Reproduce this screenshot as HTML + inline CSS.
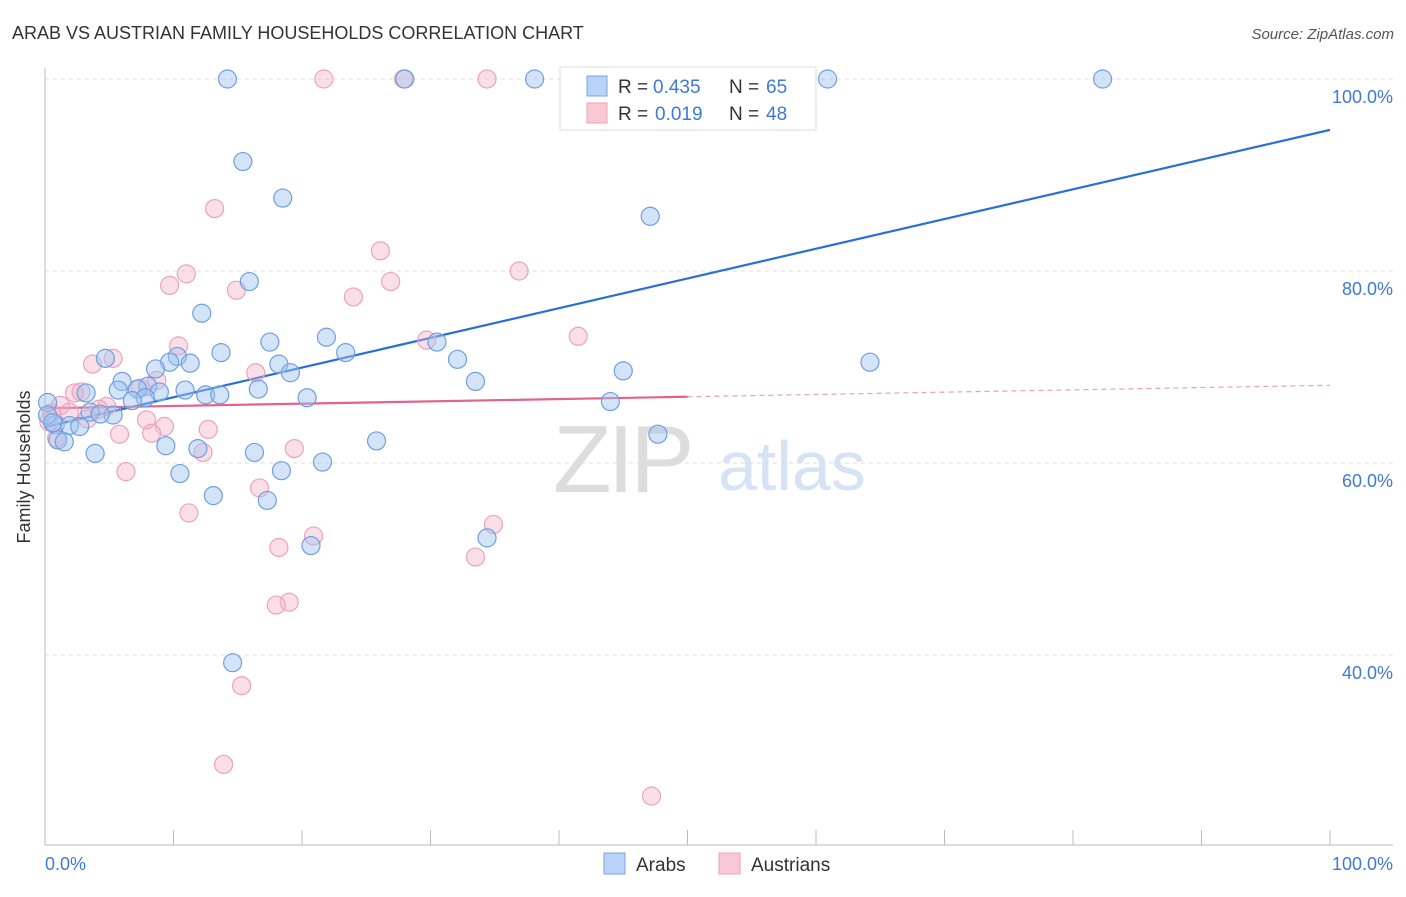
<!DOCTYPE html>
<html><head><meta charset="utf-8"><style>
body{margin:0;background:#fff;font-family:"Liberation Sans",sans-serif;}
svg text{font-family:"Liberation Sans",sans-serif;}
</style></head><body>
<svg id="chart" width="1406" height="892" viewBox="0 0 1406 892" xmlns="http://www.w3.org/2000/svg">
<text x="12" y="39" font-size="18" fill="#333">ARAB VS AUSTRIAN FAMILY HOUSEHOLDS CORRELATION CHART</text>
<text x="1394" y="39" font-size="15" fill="#555" font-style="italic" text-anchor="end">Source: ZipAtlas.com</text>
<g>
<text x="553" y="492" font-size="96" fill="#ddd" font-family="Liberation Serif, serif" letter-spacing="-4">ZIP</text>
<text x="718" y="490" font-size="70" fill="#d5e3f5">atlas</text>
</g>
<g id="grid"></g>
<g id="axes"></g>
<g id="trends"></g>
<g id="points"></g>
<g>
<rect x="560" y="67" width="256" height="63" fill="#fff" stroke="#ddd"/>
<rect x="587" y="76" width="20" height="20" fill="#b8d3f5" stroke="#7aa6e2"/>
<text x="618" y="93" font-size="19" fill="#333">R = </text><text x="653" y="93" font-size="19" fill="#3f79d8">0.435</text>
<text x="729" y="93" font-size="19" fill="#333">N = </text><text x="766" y="93" font-size="19" fill="#3f79d8">65</text>
<rect x="587" y="103" width="20" height="20" fill="#f8c8d6" stroke="#eca3ba"/>
<text x="618" y="120" font-size="19" fill="#333">R = </text><text x="655" y="120" font-size="19" fill="#3f79d8">0.019</text>
<text x="729" y="120" font-size="19" fill="#333">N = </text><text x="766" y="120" font-size="19" fill="#3f79d8">48</text>
</g>
<g>
<rect x="604" y="853" width="21" height="21" fill="#b8d3f5" stroke="#7aa6e2"/>
<text x="636" y="871" font-size="19" fill="#333">Arabs</text>
<rect x="719" y="853" width="21" height="21" fill="#f8c8d6" stroke="#eca3ba"/>
<text x="751" y="871" font-size="19" fill="#333">Austrians</text>
</g>
<text x="18" y="455" font-size="18" fill="#333" transform="rotate(-90 30 455)" text-anchor="middle">Family Households</text>
</svg>
<script>
const arabX=[14.2,28.0,38.1,60.9,82.3,15.4,18.5,47.1,15.9,12.2,21.9,17.5,30.5,23.4,13.7,4.7,10.3,32.1,64.2,9.7,11.3,18.2,8.6,19.1,45.0,33.5,6.0,8.0,7.2,5.7,10.9,16.6,3.2,8.9,12.5,13.6,20.4,7.8,6.8,44.0,0.2,3.5,5.3,4.3,0.8,1.9,2.7,47.7,1.0,1.5,25.8,9.4,11.9,3.9,16.3,21.6,10.5,18.4,13.1,17.3,34.4,20.7,14.6,0.2,0.6];
const arabY=[100,100,100,100,100,91.4,87.6,85.7,78.9,75.6,73.1,72.6,72.6,71.5,71.5,70.9,71.1,70.8,70.5,70.5,70.4,70.3,69.8,69.4,69.6,68.5,68.5,68.0,67.7,67.6,67.6,67.7,67.3,67.4,67.1,67.1,66.8,66.8,66.5,66.4,66.3,65.3,65.0,65.1,64.0,63.9,63.8,63.0,62.4,62.2,62.3,61.8,61.5,61.0,61.1,60.1,58.9,59.2,56.6,56.1,52.2,51.4,39.2,65.0,64.2];
const austX=[21.7,27.9,34.4,13.2,26.1,36.9,11.0,9.7,14.9,26.9,24.0,41.5,29.7,10.4,5.3,3.7,16.4,8.7,7.4,2.3,2.8,1.2,4.8,4.2,1.9,0.5,7.9,3.3,9.3,12.7,8.3,5.8,0.9,19.4,12.3,6.3,16.7,11.2,34.9,20.9,18.2,33.5,19.0,18.0,15.3,13.9,47.2,0.3];
const austY=[100,100,100,86.5,82.1,80.0,79.7,78.5,78.0,78.9,77.3,73.2,72.8,72.2,70.9,70.3,69.4,68.6,67.8,67.3,67.4,66.0,65.9,65.6,65.3,65.2,64.5,64.6,63.8,63.5,63.1,63.0,62.6,61.5,61.1,59.1,57.4,54.8,53.6,52.4,51.2,50.2,45.5,45.2,36.8,28.6,25.3,64.3];
const arabTrend=[63.75,94.7];   // y at x=0 and x=100
const austTrend=[65.7,68.1];
const austSolidEnd=50;
const yTicks=[100,80,60,40];
const yTickLabels=["100.0%","80.0%","60.0%","40.0%"];
const xTickCount=10;

const NS="http://www.w3.org/2000/svg";
const X0=45,X1=1330,YTOP=79,PXY=9.6;
const sx=v=>X0+(X1-X0)*v/100;
const sy=v=>YTOP+(100-v)*PXY;
function mk(tag,attrs,parent){const e=document.createElementNS(NS,tag);for(const k in attrs)e.setAttribute(k,attrs[k]);parent.appendChild(e);return e;}
const grid=document.getElementById('grid'),axes=document.getElementById('axes'),tr=document.getElementById('trends'),pts=document.getElementById('points');
yTicks.forEach((t,i)=>{
  const l=mk('line',{x1:X0,x2:1393,y1:sy(t),y2:sy(t),stroke:'#ddd','stroke-dasharray':'4,4'},grid);
  
  
  const tx=mk('text',{x:1393,y:sy(t)+24,'font-size':18,fill:'#3f79d8','text-anchor':'end'},axes);
  tx.textContent=yTickLabels[i];
  
  
});
mk('line',{x1:X0,x2:X0,y1:68,y2:845,stroke:'#bbb'},axes);
mk('line',{x1:X0,x2:1393,y1:845,y2:845,stroke:'#bbb'},axes);
for(let i=0;i<=xTickCount;i++){
  const x=sx(i*100/xTickCount);
  const t=mk('line',{x1:x,x2:x,y1:830,y2:845,stroke:'#bbb'},axes);
  
  
}
const xl=mk('text',{x:45,y:870,'font-size':18,fill:'#3f79d8'},axes);xl.textContent="0.0%";


const xr=mk('text',{x:1393,y:870,'font-size':18,fill:'#3f79d8','text-anchor':'end'},axes);xr.textContent="100.0%";



austX.forEach((x,i)=>{
  const c=mk('circle',{cx:sx(x),cy:sy(austY[i]),r:9,fill:'rgba(245,175,198,0.4)',stroke:'#eba3bb','stroke-width':1.2},pts);
  
  
});
arabX.forEach((x,i)=>{
  const c=mk('circle',{cx:sx(x),cy:sy(arabY[i]),r:9,fill:'rgba(160,196,240,0.45)',stroke:'#6f9fe0','stroke-width':1.2},pts);
  
  
});
const at=mk('line',{x1:sx(0),y1:sy(arabTrend[0]),x2:sx(100),y2:sy(arabTrend[1]),stroke:'#2a6fd6','stroke-width':2.2},tr);


const pAt=x=>austTrend[0]+(austTrend[1]-austTrend[0])*x/100;
const ps=mk('line',{x1:sx(0),y1:sy(pAt(0)),x2:sx(austSolidEnd),y2:sy(pAt(austSolidEnd)),stroke:'#e4628e','stroke-width':2.2},tr);


const pd=mk('line',{x1:sx(austSolidEnd),y1:sy(pAt(austSolidEnd)),x2:sx(100),y2:sy(pAt(100)),stroke:'#e8a0b8','stroke-width':1.2,'stroke-dasharray':'5,4'},tr);


</script>
</body></html>
